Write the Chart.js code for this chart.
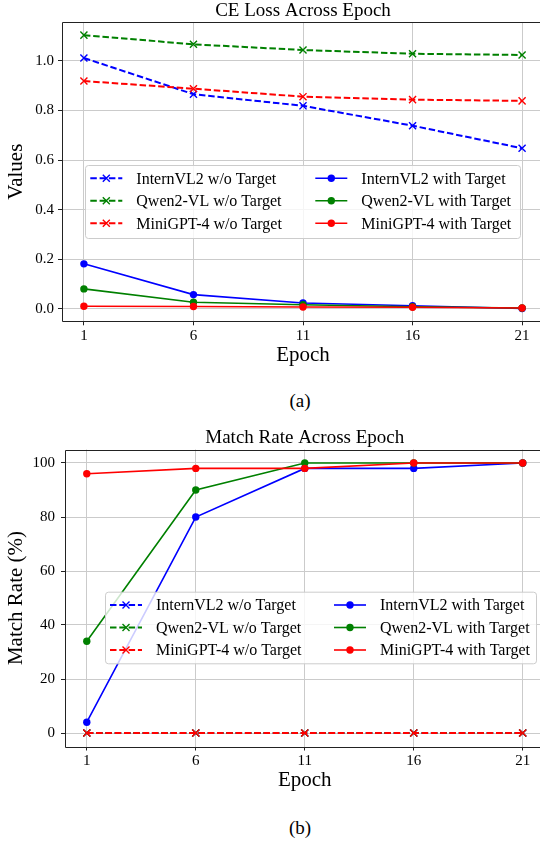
<!DOCTYPE html>
<html>
<head>
<meta charset="utf-8">
<title>CE Loss and Match Rate Across Epoch</title>
<script src="https://cdn.jsdelivr.net/npm/chart.js@4.4.1/dist/chart.umd.min.js"></script>
<style>
	html, body { margin: 0; padding: 0; background: #fff; overflow: hidden; }
	#page { position: relative; width: 540px; height: 843px; overflow: hidden; }
	canvas { position: absolute; left: 0; width: 560px; height: 380px; }
	.caption {
		position: absolute; left: 0; width: 600px; text-align: center;
		font: 19px 'Liberation Serif', 'Times New Roman', serif; line-height: 20px; color: #000;
	}
</style>
</head>
<body>
<div id="page">
	<canvas id="lossChart" width="560" height="380" style="top:0"></canvas>
	<div class="caption" style="top:391px">(a)</div>
	<canvas id="rateChart" width="560" height="380" style="top:425px"></canvas>
	<div class="caption" style="top:818px">(b)</div>
</div>
<script>
// data
const epochs = [1, 6, 11, 16, 21];
const seriesNames = [
	'InternVL2 w/o Target', 'Qwen2-VL w/o Target', 'MiniGPT-4 w/o Target',
	'InternVL2 with Target', 'Qwen2-VL with Target', 'MiniGPT-4 with Target'
];
const seriesColors = ['#0000ff', '#008000', '#ff0000', '#0000ff', '#008000', '#ff0000'];

const lossInternNo = [1.012, 0.866, 0.819, 0.739, 0.648];
const lossQwenNo = [1.104, 1.067, 1.044, 1.029, 1.024];
const lossMiniNo = [0.919, 0.888, 0.856, 0.844, 0.839];
const lossInternWith = [0.182, 0.058, 0.024, 0.013, 0.002];
const lossQwenWith = [0.081, 0.027, 0.017, 0.009, 0.004];
const lossMiniWith = [0.011, 0.010, 0.008, 0.007, 0.004];

const rateInternNo = [0, 0, 0, 0, 0];
const rateQwenNo = [0, 0, 0, 0, 0];
const rateMiniNo = [0, 0, 0, 0, 0];
const rateInternWith = [4, 80, 98, 98, 100];
const rateQwenWith = [34, 90, 100, 100, 100];
const rateMiniWith = [96, 98, 98, 100, 100];

const lossTicks = [0, 0.2, 0.4, 0.6, 0.8, 1.0];
const rateTicks = [0, 20, 40, 60, 80, 100];

const SERIF = "'Liberation Serif', 'Times New Roman', serif";
Chart.defaults.font.family = SERIF;
Chart.defaults.color = '#000';

function makeSet(i, values) {
	const dashed = i < 3;
	const color = seriesColors[i];
	return {
		label: seriesNames[i],
		data: epochs.map((e, k) => ({x: e, y: values[k]})),
		borderColor: color,
		backgroundColor: color,
		borderWidth: dashed ? 2 : 1.6,
		borderDash: dashed ? [6.5, 2.8] : [],
		pointStyle: dashed ? 'crossRot' : 'circle',
		pointRadius: dashed ? 5 : 3.7,
		pointBorderWidth: dashed ? 1.4 : 0,
		pointBackgroundColor: color,
		pointBorderColor: color,
		tension: 0,
		order: 5 - i,
	};
}

// frame, title and the boxed two-column legend inside the plot
const framePlugin = {
	id: 'frame',
	afterDatasetsDraw(chart, args, opts) {
		const ctx = chart.ctx;
		const a = chart.chartArea;
		ctx.save();

		const l = Math.round(a.left) + 0.5, t = Math.round(a.top) + 0.5, b = Math.round(a.bottom) + 0.5;
		ctx.strokeStyle = '#222';
		ctx.lineWidth = 1;
		ctx.beginPath();
		ctx.moveTo(a.right, t); ctx.lineTo(l, t); ctx.lineTo(l, b); ctx.lineTo(a.right, b);
		ctx.stroke();

		ctx.fillStyle = '#000';
		ctx.font = '19px ' + SERIF;
		ctx.textAlign = 'center';
		ctx.textBaseline = 'alphabetic';
		ctx.fillText(opts.title, (a.left + a.right) / 2, a.top - 6.5);

		const L = opts.legend;
		ctx.beginPath();
		ctx.roundRect(L.x + 0.5, L.y + 0.5, L.w, L.h, 3);
		ctx.fillStyle = 'rgba(255,255,255,0.8)';
		ctx.fill();
		ctx.strokeStyle = '#cccccc';
		ctx.stroke();

		chart.data.datasets.forEach((ds, i) => {
			const x0 = L.itemX + Math.floor(i / 3) * L.colGap;
			const y = L.itemY + (i % 3) * L.rowGap;
			ctx.strokeStyle = ds.borderColor;
			ctx.fillStyle = ds.borderColor;
			ctx.lineWidth = ds.borderWidth;
			ctx.setLineDash(ds.borderDash);
			ctx.beginPath();
			ctx.moveTo(x0, y);
			ctx.lineTo(x0 + 32, y);
			ctx.stroke();
			ctx.setLineDash([]);
			const cx = x0 + 16;
			if (ds.pointStyle === 'crossRot') {
				const h = 3.5;
				ctx.lineWidth = ds.pointBorderWidth;
				ctx.beginPath();
				ctx.moveTo(cx - h, y - h); ctx.lineTo(cx + h, y + h);
				ctx.moveTo(cx - h, y + h); ctx.lineTo(cx + h, y - h);
				ctx.stroke();
			} else {
				ctx.beginPath();
				ctx.arc(cx, y, ds.pointRadius, 0, Math.PI * 2);
				ctx.fill();
			}
			ctx.fillStyle = '#000';
			ctx.font = '16px ' + SERIF;
			ctx.textAlign = 'left';
			ctx.textBaseline = 'middle';
			ctx.fillText(ds.label, x0 + 46, y + 1);
		});

		ctx.restore();
	}
};

function gridOpts() {
	return {color: '#cbcbcb', lineWidth: 1, tickLength: 4, tickColor: '#222'};
}

function makeChart(id, sets, cfg) {
	return new Chart(document.getElementById(id), {
		type: 'line',
		data: {datasets: sets},
		plugins: [framePlugin],
		options: {
			responsive: false,
			animation: false,
			devicePixelRatio: 1,
			layout: {padding: cfg.padding},
			plugins: {
				legend: {display: false},
				tooltip: {enabled: false},
				frame: {title: cfg.title, legend: cfg.legend},
			},
			scales: {
				x: {
					type: 'linear', min: 0, max: 22,
					afterBuildTicks: s => { s.ticks = epochs.map(v => ({value: v})); },
					afterFit: s => { s.height = 47; },
					ticks: {font: {size: 15}, color: '#000', padding: 2, maxRotation: 0, autoSkip: false,
						callback: v => String(v)},
					grid: gridOpts(),
					border: {display: false},
					title: {display: true, text: 'Epoch', font: {size: 21}, color: '#000', padding: 0},
				},
				y: {
					type: 'linear', min: cfg.yMin, max: cfg.yMax,
					afterBuildTicks: s => { s.ticks = cfg.yTicks.map(v => ({value: v})); },
					afterFit: s => { s.width = cfg.yWidth; },
					ticks: {font: {size: 15}, color: '#000', padding: cfg.yPad, callback: cfg.yFormat},
					grid: gridOpts(),
					border: {display: false},
					title: {display: true, text: cfg.yTitle, font: {size: 21}, color: '#000',
						padding: {top: 4, bottom: 0}},
				},
			},
		},
	});
}

makeChart('lossChart', [
	makeSet(0, lossInternNo), makeSet(1, lossQwenNo), makeSet(2, lossMiniNo),
	makeSet(3, lossInternWith), makeSet(4, lossQwenWith), makeSet(5, lossMiniWith),
], {
	title: 'CE Loss Across Epoch',
	yTitle: 'Values',
	yMin: -0.0496, yMax: 1.157,
	yTicks: lossTicks,
	yFormat: v => v.toFixed(1),
	yWidth: 62, yPad: 4,
	padding: {top: 22, right: 16, bottom: 11.7, left: 0},
	legend: {x: 85, y: 165, w: 435, h: 73, itemX: 90.3, itemY: 178.3, rowGap: 22.5, colGap: 225},
});

makeChart('rateChart', [
	makeSet(0, rateInternNo), makeSet(1, rateQwenNo), makeSet(2, rateMiniNo),
	makeSet(3, rateInternWith), makeSet(4, rateQwenWith), makeSet(5, rateMiniWith),
], {
	title: 'Match Rate Across Epoch',
	yTitle: 'Match Rate (%)',
	yMin: -5, yMax: 105,
	yTicks: rateTicks,
	yFormat: v => String(v),
	yWidth: 65, yPad: 6,
	padding: {top: 24.5, right: 15.5, bottom: 11.5, left: 0},
	legend: {x: 105, y: 166.7, w: 431, h: 71.6, itemX: 110, itemY: 180, rowGap: 22.5, colGap: 224},
});
</script>
</body>
</html>
